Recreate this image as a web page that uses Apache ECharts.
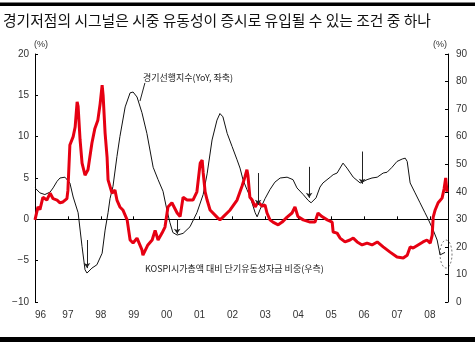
<!DOCTYPE html>
<html><head><meta charset="utf-8">
<script src="https://cdn.jsdelivr.net/npm/echarts@6/dist/echarts.min.js"></script>
<style>html,body{margin:0;padding:0;background:#fff}#c{width:475px;height:342px}</style>
</head><body><div id="c"></div>
<script>
const titleText = '경기저점의 시그널은 시중 유동성이 증시로 유입될 수 있는 조건 중 하나';
const leadName = '경기선행지수(YoY, 좌축)';
const liqName = 'KOSPI시가총액 대비 단기유동성자금 비중(우측)';
const xLabels = ['96','97','98','99','00','01','02','03','04','05','06','07','08'];
const xStartYear = 1996;
const leftAxisRange = [-10, 20, 5];
const rightAxisRange = [0, 90, 10];

// 경기선행지수 YoY (left axis) : [decimal year, %]
const leadData = [[1996.00,3.8],[1996.15,3.2],[1996.30,3.0],[1996.46,3.3],[1996.55,3.8],[1996.67,4.6],[1996.76,5.0],[1996.91,5.1],[1997.06,4.4],[1997.16,2.7],[1997.31,0.8],[1997.43,-3.3],[1997.52,-6.1],[1997.58,-6.5],[1997.73,-5.9],[1997.88,-5.5],[1998.04,-4.1],[1998.13,-1.3],[1998.22,0.8],[1998.28,2.5],[1998.37,4.0],[1998.49,7.6],[1998.58,10.0],[1998.74,13.6],[1998.89,15.3],[1998.98,15.4],[1999.10,14.8],[1999.25,12.9],[1999.40,10.4],[1999.59,6.3],[1999.74,4.8],[1999.89,3.4],[2000.01,1.1],[2000.10,-0.4],[2000.19,-1.6],[2000.32,-1.9],[2000.50,-1.7],[2000.71,-0.9],[2000.92,0.8],[2001.11,3.0],[2001.23,5.5],[2001.38,9.6],[2001.53,12.0],[2001.62,12.8],[2001.71,12.4],[2001.84,10.4],[2001.99,8.8],[2002.14,7.2],[2002.23,6.2],[2002.32,4.8],[2002.44,3.6],[2002.53,2.8],[2002.69,0.8],[2002.75,0.3],[2002.84,1.2],[2002.99,2.5],[2003.14,3.6],[2003.29,4.5],[2003.45,5.0],[2003.66,5.1],[2003.84,4.8],[2003.96,3.8],[2004.15,3.0],[2004.30,2.3],[2004.39,2.0],[2004.54,2.6],[2004.66,3.9],[2004.75,4.4],[2004.97,5.1],[2005.06,5.4],[2005.18,5.6],[2005.36,6.8],[2005.48,6.2],[2005.67,5.1],[2005.88,4.4],[2005.94,4.2],[2006.09,4.8],[2006.24,5.0],[2006.40,5.1],[2006.58,5.6],[2006.70,5.7],[2006.85,6.3],[2007.00,7.0],[2007.16,7.3],[2007.25,7.4],[2007.31,7.0],[2007.40,4.4],[2007.55,3.2],[2007.70,2.0],[2007.85,0.8],[2007.95,0.0],[2008.10,-1.3],[2008.22,-2.5],[2008.31,-4.3],[2008.37,-4.5],[2008.46,-4.0]];

// KOSPI 시가총액 대비 단기유동성자금 비중 (right axis) : [decimal year, %]
const liqData = [[1996.00,29.8],[1996.09,34.5],[1996.15,33.5],[1996.24,38],[1996.36,37],[1996.46,39.5],[1996.55,37.5],[1996.67,37],[1996.76,36],[1996.85,36.3],[1996.97,37.5],[1997.00,40.5],[1997.06,57],[1997.16,60],[1997.22,63.5],[1997.28,72.6],[1997.31,71],[1997.37,58.8],[1997.43,50.4],[1997.52,46],[1997.61,48],[1997.73,57.7],[1997.82,63],[1997.91,66],[1997.98,72],[1998.04,78.7],[1998.07,75],[1998.13,61.3],[1998.19,52.6],[1998.22,44.3],[1998.34,39.5],[1998.43,40.6],[1998.49,37],[1998.58,34.5],[1998.67,33.4],[1998.80,29.8],[1998.89,22.5],[1998.98,21.4],[1999.10,23.2],[1999.25,18.9],[1999.28,17],[1999.43,20.7],[1999.56,22.5],[1999.65,26],[1999.74,22.5],[1999.86,25],[1999.95,27.2],[2000.04,34.5],[2000.16,36],[2000.32,32.3],[2000.41,31],[2000.50,38],[2000.62,37],[2000.80,37],[2000.92,40],[2001.02,50.4],[2001.08,51.5],[2001.11,47],[2001.17,40],[2001.23,37],[2001.32,33.4],[2001.53,30.8],[2001.62,29.8],[2001.71,30.8],[2001.93,33.4],[2002.14,37],[2002.23,40],[2002.29,42],[2002.38,45.4],[2002.44,48],[2002.47,46],[2002.53,38],[2002.60,37],[2002.69,34.5],[2002.78,36.3],[2002.90,34.8],[2002.99,35.2],[2003.05,32.3],[2003.14,29.8],[2003.23,29],[2003.39,28],[2003.51,29],[2003.66,30.8],[2003.81,32.3],[2003.90,34.5],[2003.99,31],[2004.15,29.8],[2004.36,29],[2004.51,29],[2004.60,32.3],[2004.72,31],[2004.88,29.8],[2005.03,29],[2005.06,25.4],[2005.18,25],[2005.27,23.2],[2005.42,21.8],[2005.57,22.5],[2005.67,23.2],[2005.79,21.8],[2005.94,20.7],[2006.09,21.4],[2006.24,20.7],[2006.40,21.8],[2006.58,20],[2006.79,18.1],[2007.00,16.3],[2007.19,16],[2007.31,17],[2007.40,20],[2007.49,19.6],[2007.64,20.7],[2007.79,21.8],[2007.91,22.5],[2008.01,21.4],[2008.07,24.3],[2008.10,30.8],[2008.16,33.4],[2008.25,36],[2008.37,37.7],[2008.43,41],[2008.48,45],[2008.52,40]];

// trough arrows on the leading index: [year, from, to] (left axis)
const troughArrows = [[1997.58,-2.5,-5.9],[2000.32,0.0,-1.75],[2002.78,5.6,1.75],[2004.33,6.35,2.6],[2005.94,8.2,4.3]];
// leader lines: [x1,y1,x2,y2]
const leadLeader = [1999.34,16.5,1999.19,14.3];
const liqLeader = [1999.71,22.5,2000.10,14.2];
// annotation anchors (left axis coords)
const leadLabelPos = [1999.28,17.2];
const liqLabelPos = [1999.34,-6.0];
const circlePos = [2008.49,-4.2];

const chart = echarts.init(document.getElementById('c'), null, {renderer:'canvas'});
const axisFont = {fontFamily:'Liberation Sans, Arial, sans-serif', fontSize:10, color:'#333'};
const fmtY = v => (v < 0 ? '\u2212' + Math.abs(v) : String(v));

chart.setOption({
  animation:false,
  title:{text:titleText,left:-2,top:8,textStyle:{fontFamily:'Noto Sans CJK KR',fontSize:14.8,fontWeight:'normal',color:'#111'}},
  grid:{left:35,right:27,top:54,bottom:40,containLabel:false},
  xAxis:[{
    type:'value',min:1996,max:2008.55,interval:1,position:'bottom',
    axisLine:{show:false,onZero:false},axisTick:{show:false},splitLine:{show:false},
    axisLabel:Object.assign({margin:8,alignMinLabel:'left',showMaxLabel:false,
      formatter:v => { const i = Math.round(v) - xStartYear; return (Math.abs(v - Math.round(v)) < 1e-6 && xLabels[i] !== undefined) ? xLabels[i] : ''; }}, axisFont)
  },{
    type:'value',min:1996,max:2008.55,interval:1,position:'bottom',
    axisLine:{show:true,onZero:true,onZeroAxisIndex:0,lineStyle:{color:'#000',width:1}},
    axisTick:{show:true,inside:true,length:3,lineStyle:{color:'#000'}},
    axisLabel:{show:false},splitLine:{show:false}
  }],
  yAxis:[{
    type:'value',min:leftAxisRange[0],max:leftAxisRange[1],interval:leftAxisRange[2],position:'left',
    axisLine:{show:true,onZero:false,lineStyle:{color:'#000',width:1}},
    axisTick:{show:true,inside:true,length:3,lineStyle:{color:'#000'}},
    splitLine:{show:false},
    axisLabel:Object.assign({margin:6,formatter:fmtY},axisFont)
  },{
    type:'value',min:rightAxisRange[0],max:rightAxisRange[1],interval:rightAxisRange[2],position:'right',
    axisLine:{show:true,onZero:false,lineStyle:{color:'#000',width:1}},
    axisTick:{show:true,inside:true,length:3,lineStyle:{color:'#000'}},
    splitLine:{show:false},
    axisLabel:Object.assign({margin:8},axisFont)
  }],
  series:[{
    name:leadName,type:'line',xAxisIndex:0,yAxisIndex:0,data:leadData,showSymbol:false,
    lineStyle:{color:'#111',width:1},itemStyle:{color:'#111'},z:2,
    markLine:{silent:true,symbolSize:5,animation:false,label:{show:false},
      lineStyle:{color:'#222',width:1,type:'solid'},emphasis:{disabled:true},
      data:troughArrows.map(a => [{coord:[a[0],a[1]],symbol:'none'},{coord:[a[0],a[2]],symbol:'arrow'}])
        .concat([[{coord:[leadLeader[0],leadLeader[1]],symbol:'none'},{coord:[leadLeader[2],leadLeader[3]],symbol:'none'}],
                 [{coord:[liqLeader[0],liqLeader[1]],symbol:'none'},{coord:[liqLeader[2],liqLeader[3]],symbol:'none'}]])}
  },{
    name:liqName,type:'line',xAxisIndex:0,yAxisIndex:1,data:liqData,showSymbol:false,
    lineStyle:{color:'#e60012',width:3},itemStyle:{color:'#e60012'},z:3
  }]
});

function px(p){ return chart.convertToPixel({xAxisIndex:0,yAxisIndex:0}, p); }
const p1 = px(leadLabelPos), p2 = px(liqLabelPos), pc = px(circlePos);
const annFont = 'Noto Sans CJK KR';
chart.setOption({graphic:[
  {type:'rect',shape:{x:0,y:2.5,width:475,height:3.5},style:{fill:'#000'},silent:true},
  {type:'rect',shape:{x:0,y:337,width:475,height:5},style:{fill:'#000'},silent:true},
  {type:'text',x:41,y:45,style:{text:'(%)',fontFamily:'Liberation Sans',fontSize:9,fill:'#333',align:'center',verticalAlign:'middle'},silent:true},
  {type:'text',x:440,y:45,style:{text:'(%)',fontFamily:'Liberation Sans',fontSize:9,fill:'#333',align:'center',verticalAlign:'middle'},silent:true},
  {type:'text',x:p1[0],y:p1[1],style:{text:leadName,fontFamily:annFont,fontSize:9,fill:'#222',align:'left',verticalAlign:'middle'},silent:true},
  {type:'text',x:p2[0],y:p2[1],style:{text:liqName,fontFamily:annFont,fontSize:9,fill:'#222',align:'left',verticalAlign:'middle'},silent:true},
  {type:'ellipse',shape:{cx:pc[0],cy:pc[1],rx:6,ry:14},style:{fill:'none',stroke:'#555',lineWidth:0.8,lineDash:[2,2]},silent:true}
]});
</script>
</body></html>
